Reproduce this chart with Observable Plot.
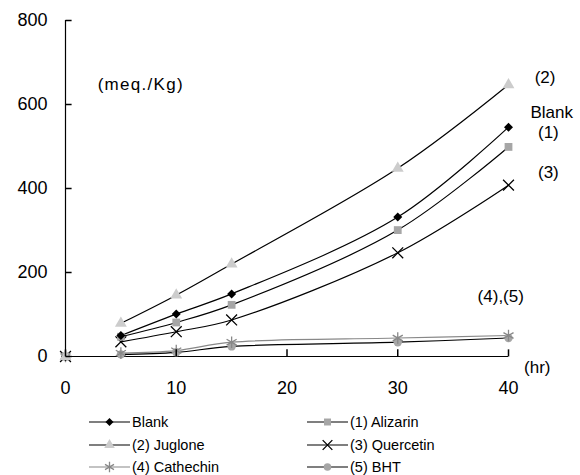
<!DOCTYPE html>
<html><head><meta charset="utf-8">
<script src="https://cdn.jsdelivr.net/npm/d3@7"></script>
<script src="https://cdn.jsdelivr.net/npm/@observablehq/plot@0.6"></script>
<style>
body{margin:0;background:#fff;font-family:"Liberation Sans",Arial,sans-serif;}
#legend{position:relative;height:75px;width:580px;}
.item{position:absolute;display:flex;align-items:center;font-size:14.5px;height:20px;color:#000;}
.item svg{margin-right:2px;}
</style></head><body><div id="chart"></div><div id="legend"></div>
<script>
const hours = [0, 5, 10, 15, 30, 40];
const blank = [0, 50, 101, 149, 332, 546];
const alizarin = [0, 47, 81, 123, 301, 499];
const juglone = [0, 79, 146, 220, 448, 647];
const quercetin = [0, 35, 59, 87, 247, 408];
const cathechin = [0, 8, 14, 34, 44, 50];
const bht = [0, 5, 10, 24, 34, 44];
const seriesNames = ["Blank", "(1) Alizarin", "(2) Juglone", "(3) Quercetin", "(4) Cathechin", "(5) BHT"];
const xTicks = [0, 10, 20, 30, 40];
const yTicks = [0, 200, 400, 600, 800];
const endLabels = ["(2)", "Blank", "(1)", "(3)", "(4),(5)"];
const endLabelX = [43.3, 43.9, 43.6, 43.6, 39.3];
const endLabelY = [664, 581, 533, 438, 142];

const seriesValues = [blank, alizarin, juglone, quercetin, cathechin, bht];
const styles = [
  {symbol: "square", rotate: 45, fill: "#000", stroke: "none", r: 3.6, line: "#000"},
  {symbol: "square", rotate: 0, fill: "#a6a6a6", stroke: "none", r: 4.4, line: "#000"},
  {symbol: "triangle", rotate: 0, fill: "#cccccc", stroke: "none", r: 4.4, line: "#000"},
  {symbol: "times", rotate: 0, fill: "none", stroke: "#000", r: 5, line: "#000"},
  {symbol: "asterisk", rotate: 0, fill: "none", stroke: "#888", r: 5.5, line: "#888"},
  {symbol: "circle", rotate: 0, fill: "#a6a6a6", stroke: "none", r: 4.2, line: "#000"}
];

const rows = [];
seriesNames.forEach((name, i) => hours.forEach((h, j) => rows.push({name, i, x: h, y: seriesValues[i][j]})));
const yTickRows = yTicks.map(v => ({v}));
const xTickRows = xTicks.map(v => ({v}));

const W = 580, H = 400, ML = 65, MR = 72, MT = 20, MB = 44;

const marks = [
  Plot.ruleY([0], {stroke: "#000", strokeWidth: 1.2}),
  Plot.ruleX([0], {stroke: "#000", strokeWidth: 1.2})
];
seriesNames.forEach((name, i) => {
  const st = styles[i];
  const d = rows.filter(r => r.i === i);
  marks.push(Plot.line(d.filter(r => r.x > 0), {x: "x", y: "y", stroke: st.line, strokeWidth: 1.2, curve: "catmull-rom"}));
});
[5, 4, 3, 1, 0, 2].forEach(i => {
  const st = styles[i];
  const d = rows.filter(r => r.i === i);
  marks.push(Plot.dot(d, {x: "x", y: "y", symbol: () => st.symbol, rotate: st.rotate, fill: st.fill, stroke: st.stroke, strokeWidth: 1.3, r: st.r}));
});
// inward tick marks
marks.push(Plot.link(yTickRows, {x1: () => 0, x2: () => 0.55, y1: "v", y2: "v", stroke: "#000", strokeWidth: 1.5}));
marks.push(Plot.link(xTickRows, {x1: "v", x2: "v", y1: () => 0, y2: () => 17, stroke: "#000", strokeWidth: 1.5}));
marks.push(Plot.axisY({ticks: yTicks, tickSize: 0, tickPadding: 18, fontSize: 18, tickFormat: d => d, label: null}));
marks.push(Plot.axisX({ticks: xTicks, tickSize: 0, tickPadding: 25, fontSize: 18, tickFormat: d => d, label: null}));
marks.push(Plot.text(endLabels, {x: (d, i) => endLabelX[i], y: (d, i) => endLabelY[i], text: d => d, fontSize: 17, fill: "#000"}));
marks.push(Plot.text(["(meq./Kg)"], {x: 6.8, y: 648, text: d => d, fontSize: 17, fill: "#000"}));
marks.push(Plot.text(["(hr)"], {x: 42.6, y: -27, text: d => d, fontSize: 17, fill: "#000"}));

const chart = Plot.plot({
  width: W, height: H,
  marginLeft: ML, marginRight: MR, marginTop: MT, marginBottom: MB,
  style: {fontFamily: "'Liberation Sans', Arial, sans-serif", background: "#fff", overflow: "visible"},
  x: {domain: [0, 40], axis: null},
  y: {domain: [0, 800], axis: null},
  symbol: {type: "identity"},
  marks
});
document.getElementById("chart").appendChild(chart);
chart.querySelectorAll("text").forEach(t => { if (t.textContent === "(meq./Kg)") t.setAttribute("letter-spacing", "1.3"); });

// legend
const legend = document.getElementById("legend");
const symMap = {square: d3.symbolSquare, triangle: d3.symbolTriangle, times: d3.symbolTimes, asterisk: d3.symbolAsterisk, circle: d3.symbolCircle};
seriesNames.forEach((name, i) => {
  const st = styles[i];
  const col = i % 2, row = Math.floor(i / 2);
  const item = document.createElement("div");
  item.className = "item";
  item.style.left = (col ? 307 : 89) + "px";
  item.style.top = (row * 22.5 + 12) + "px";
  const path = d3.symbol(symMap[st.symbol], Math.PI * st.r * st.r * 0.8)();
  item.innerHTML = `<svg width="41" height="20"><line x1="0" x2="41" y1="10" y2="10" stroke="${st.line}" stroke-width="1.2"/><path d="${path}" transform="translate(20.5,10) rotate(${st.rotate})" fill="${st.fill}" stroke="${st.stroke}" stroke-width="1.3"/></svg><span>${name}</span>`;
  legend.appendChild(item);
});
</script></body></html>
